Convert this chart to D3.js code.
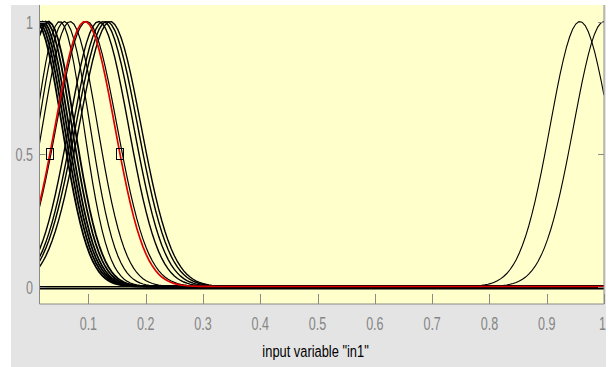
<!DOCTYPE html>
<html>
<head>
<meta charset="utf-8">
<script src="https://cdn.jsdelivr.net/npm/d3@7"></script>
<style>
  html, body { margin: 0; padding: 0; background: #fff; }
  svg { display: block; }
  text { font-family: "Liberation Sans", Arial, sans-serif; }
</style>
</head>
<body>
<div id="chart"></div>
<script>
// membership functions of input "in1" (gaussian: center, sigma)
const mfCenters = [0.008, 0.012, 0.016, 0.020, 0.025, 0.030,
                   0.050, 0.058, 0.068, 0.097,
                   0.118, 0.126, 0.132, 0.138,
                   0.958, 1.000];
const mfSigmas  = [0.046, 0.046, 0.046, 0.046, 0.046, 0.046,
                   0.042, 0.045, 0.048, 0.053,
                   0.052, 0.053, 0.054, 0.054,
                   0.052, 0.053];
// the first six overlap into a heavy band
const mfWidths  = [1.8, 1.8, 1.8, 1.8, 1.8, 1.8,
                   1.2, 1.2, 1.2, 1.2,
                   1.4, 1.4, 1.4, 1.4,
                   1.1, 1.1];
// the selected (red) function
const selCenter = 0.094;
const selSigma = 0.052;

const xTicks = [0.1, 0.2, 0.3, 0.4, 0.5, 0.6, 0.7, 0.8, 0.9, 1];
const xTickLabels = ["0.1", "0.2", "0.3", "0.4", "0.5", "0.6", "0.7", "0.8", "0.9", "1"];
const yTicks = [0, 0.5, 1];
const yTickLabels = ["0", "0.5", "1"];
const xRange = [0.0147, 1];
const xLabel = 'input variable "in1"';

const W = 613, H = 367;
const plot = { left: 39.5, right: 604, top: 5, bottom: 304 };

const svg = d3.select("#chart").append("svg")
    .attr("width", W)
    .attr("height", H);

// figure background
svg.append("rect")
    .attr("x", 11).attr("y", 5)
    .attr("width", 595).attr("height", 362)
    .attr("fill", "#e4e4e4");

svg.append("rect")
    .attr("x", plot.left).attr("y", plot.top)
    .attr("width", plot.right - plot.left)
    .attr("height", plot.bottom - plot.top)
    .attr("fill", "#ffffcc");

const x = d3.scaleLinear().domain(xRange).range([plot.left, plot.right]);
const y = d3.scaleLinear().domain([0, 1]).range([286.5, 21.5]);

svg.append("clipPath").attr("id", "clip")
    .append("rect")
    .attr("x", plot.left).attr("y", plot.top)
    .attr("width", plot.right - plot.left)
    .attr("height", plot.bottom - plot.top);

const g = svg.append("g").attr("clip-path", "url(#clip)");

const gauss = (c, s) => v => Math.exp(-((v - c) * (v - c)) / (2 * s * s));
const xs = d3.range(0, 181).map(i => xRange[0] + (xRange[1] - xRange[0]) * i / 180);

const line = d3.line()
    .x(d => x(d[0]))
    .y(d => y(d[1]));

// baseline under the curves
g.append("line")
    .attr("x1", plot.left).attr("x2", plot.right)
    .attr("y1", y(0) + 2).attr("y2", y(0) + 2)
    .attr("stroke", "#000")
    .attr("stroke-width", 1.8);

// black curves
mfCenters.forEach((c, i) => {
    const f = gauss(c, mfSigmas[i]);
    g.append("path")
        .attr("d", line(xs.map(v => [v, f(v)])))
        .attr("fill", "none")
        .attr("stroke", "#000")
        .attr("stroke-width", mfWidths[i]);
});

// selected curve in red
const fs = gauss(selCenter, selSigma);
g.append("path")
    .attr("d", line(xs.map(v => [v, fs(v)])))
    .attr("fill", "none")
    .attr("stroke", "#e00000")
    .attr("stroke-width", 1.7);

// handles at half height of the selected curve
const half = selSigma * Math.sqrt(2 * Math.log(2));
[selCenter - half, selCenter + half].forEach(v => {
    g.append("rect")
        .attr("x", Math.round(x(v)) - 3.5).attr("y", Math.round(y(0.5)) - 5.5)
        .attr("width", 7).attr("height", 11)
        .attr("fill", "none")
        .attr("stroke", "#000")
        .attr("stroke-width", 1);
});

// axes frame
const axisColor = "#8a8a8a";
svg.append("line")
    .attr("x1", plot.left).attr("x2", plot.left)
    .attr("y1", plot.top).attr("y2", plot.bottom)
    .attr("stroke", axisColor);
svg.append("line")
    .attr("x1", plot.right).attr("x2", plot.right)
    .attr("y1", plot.top).attr("y2", plot.bottom)
    .attr("stroke", axisColor);
svg.append("line")
    .attr("x1", plot.left).attr("x2", plot.right)
    .attr("y1", plot.bottom).attr("y2", plot.bottom)
    .attr("stroke", axisColor);

// x ticks (inward) and labels
xTicks.forEach((t, i) => {
    const px = Math.round(x(t)) + 0.5;
    svg.append("line")
        .attr("x1", px).attr("x2", px)
        .attr("y1", plot.bottom).attr("y2", plot.bottom - 10)
        .attr("stroke", axisColor);
    svg.append("text")
        .attr("transform", `translate(${i === xTicks.length - 1 ? x(t) + 2 : x(t)},330) scale(0.66,1)`)
        .attr("text-anchor", i === xTicks.length - 1 ? "end" : "middle")
        .style("font-size", "19px")
        .style("fill", "#858585")
        .text(xTickLabels[i]);
});

// y ticks on both sides and labels
yTicks.forEach((t, i) => {
    const py = Math.round(y(t)) + 0.5;
    svg.append("line")
        .attr("x1", plot.left).attr("x2", plot.left + 6)
        .attr("y1", py).attr("y2", py)
        .attr("stroke", axisColor);
    svg.append("line")
        .attr("x1", plot.right - 6).attr("x2", plot.right)
        .attr("y1", py).attr("y2", py)
        .attr("stroke", axisColor);
    svg.append("text")
        .attr("transform", `translate(33,${y(t) + 7}) scale(0.66,1)`)
        .attr("text-anchor", "end")
        .style("font-size", "19px")
        .style("fill", "#858585")
        .text(yTickLabels[i]);
});

// x axis title
svg.append("text")
    .attr("transform", `translate(${(x(0.4) + x(0.6)) / 2 - 2},357) scale(0.78,1)`)
    .attr("text-anchor", "middle")
    .style("font-size", "16.5px")
    .style("fill", "#000")
    .text(xLabel);
</script>
</body>
</html>
